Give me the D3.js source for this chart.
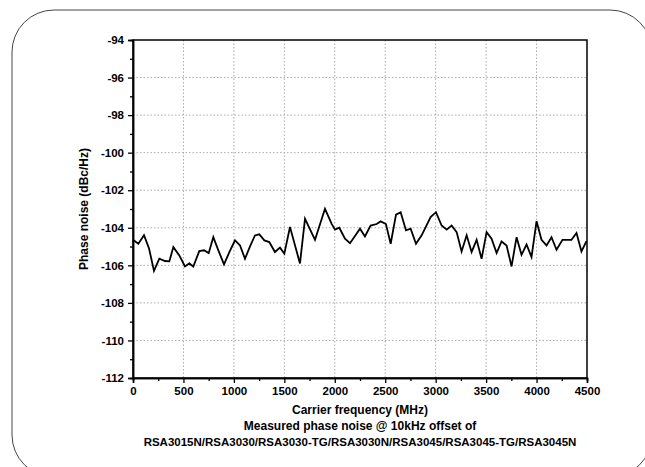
<!DOCTYPE html><html><head><meta charset="utf-8">
<script src="https://cdn.jsdelivr.net/npm/d3@7"></script>
<style>body{margin:0;background:#fff}text{font-family:"Liberation Sans",Arial,sans-serif}</style></head><body>
<svg id="c" width="645" height="467"></svg>
<script>
const freq=[0,53,109,159,208,261,317,360,400,459,515,558,598,657,704,750,796,846,902,955,1011,1061,1110,1160,1209,1252,1302,1351,1407,1457,1500,1556,1655,1705,1804,1903,1969,2002,2045,2101,2151,2250,2299,2355,2415,2455,2507,2554,2607,2653,2706,2752,2805,2861,2950,3003,3059,3109,3158,3208,3257,3307,3356,3406,3455,3505,3554,3604,3653,3703,3752,3802,3851,3901,3950,4000,4049,4099,4148,4198,4257,4346,4396,4445,4495];
const noise=[-104.64,-104.85,-104.4,-105.1,-106.3,-105.65,-105.77,-105.79,-105.03,-105.47,-106.06,-105.9,-106.06,-105.24,-105.2,-105.35,-104.5,-105.2,-105.95,-105.3,-104.67,-104.94,-105.65,-104.99,-104.41,-104.35,-104.67,-104.76,-105.29,-105.06,-105.38,-103.96,-105.9,-103.52,-104.64,-102.99,-103.79,-104.1,-104.0,-104.58,-104.82,-104.05,-104.46,-103.88,-103.8,-103.66,-103.8,-104.85,-103.3,-103.17,-104.14,-104.05,-104.85,-104.4,-103.43,-103.17,-103.88,-104.1,-103.88,-104.23,-105.26,-104.4,-105.29,-104.64,-105.65,-104.23,-104.58,-105.35,-104.73,-104.94,-106.06,-104.5,-105.44,-104.89,-105.56,-103.65,-104.64,-104.94,-104.5,-105.17,-104.64,-104.64,-104.28,-105.26,-104.71];
const xTicks=[0,500,1000,1500,2000,2500,3000,3500,4000,4500];
const yTicks=[-94,-96,-98,-100,-102,-104,-106,-108,-110,-112];
const svg=d3.select("#c");
svg.append("rect").attr("x",12).attr("y",10).attr("width",640).attr("height",467).attr("rx",42).attr("fill","none").attr("stroke","#444").attr("stroke-width",1);
const L=133,R=587,T=40,B=378;
const x=d3.scaleLinear().domain([0,4500]).range([L,R]);
const y=d3.scaleLinear().domain([-112,-94]).range([B,T]);
const g=svg.append("g");
xTicks.slice(1,-1).forEach(v=>g.append("line").attr("x1",x(v)).attr("x2",x(v)).attr("y1",T).attr("y2",B).attr("stroke","#aaa").attr("stroke-dasharray","1.5,2"));
yTicks.slice(1,-1).forEach(v=>g.append("line").attr("x1",L).attr("x2",R).attr("y1",y(v)).attr("y2",y(v)).attr("stroke","#aaa").attr("stroke-dasharray","1.5,2"));
g.append("rect").attr("x",L).attr("y",T).attr("width",R-L).attr("height",B-T).attr("fill","none").attr("stroke","#000").attr("stroke-width",1.5);
const fmt=d=>String(d);
const xa=svg.append("g").attr("transform",`translate(0,${B})`).call(d3.axisBottom(x).tickValues(xTicks).tickSize(5).tickPadding(4).tickFormat(fmt));
const xm=svg.append("g").attr("transform",`translate(0,${B})`).call(d3.axisBottom(x).tickValues(d3.range(250,4500,500)).tickSize(3).tickFormat(""));
const ya=svg.append("g").attr("transform",`translate(${L},0)`).call(d3.axisLeft(y).tickValues(yTicks).tickSize(5).tickPadding(4).tickFormat(fmt));
const ym=svg.append("g").attr("transform",`translate(${L},0)`).call(d3.axisLeft(y).tickValues(d3.range(-111,-94,2)).tickSize(3).tickFormat(""));
[xa,xm,ya,ym].forEach(a=>{a.select(".domain").attr("stroke-width",1.5);a.selectAll("line").attr("stroke-width",1.3);a.selectAll("text").attr("font-size",11.5).attr("font-weight","bold").attr("fill","#000")});
svg.append("path").datum(freq.map((f,i)=>[f,noise[i]])).attr("d",d3.line().x(d=>x(d[0])).y(d=>y(d[1]))).attr("fill","none").attr("stroke","#000").attr("stroke-width",1.8);
svg.append("text").attr("transform","translate(88,209) rotate(-90)").attr("text-anchor","middle").attr("font-size",12).attr("font-weight","bold").text("Phase noise (dBc/Hz)");
const tx=svg.append("g").attr("text-anchor","middle").attr("font-weight","bold").attr("font-size",12);
tx.append("text").attr("x",360).attr("y",414).text("Carrier frequency (MHz)");
tx.append("text").attr("x",360).attr("y",430).text("Measured phase noise @ 10kHz offset of");
tx.append("text").attr("x",360).attr("y",446).attr("font-size",11.5).text("RSA3015N/RSA3030/RSA3030-TG/RSA3030N/RSA3045/RSA3045-TG/RSA3045N");
</script></body></html>
